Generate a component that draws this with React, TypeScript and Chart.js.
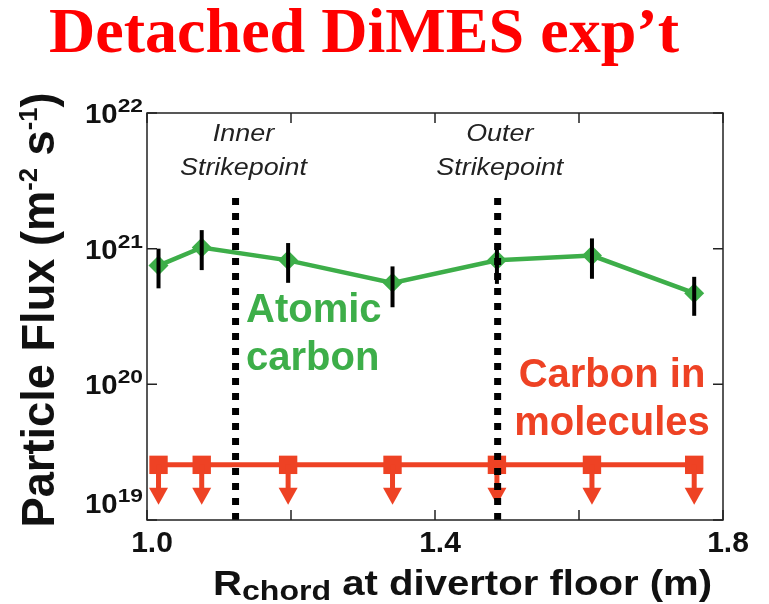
import { useEffect, useRef } from 'react';
import { Chart, registerables } from 'chart.js';

Chart.register(...registerables);

// Chord major radius at the divertor floor (m)
const chordR = [1.016, 1.076, 1.196, 1.341, 1.486, 1.618, 1.76];
// Atomic carbon flux (m^-2 s^-1) with error-bar bounds
const atomicFlux = [7.5e20, 1.02e21, 8.2e20, 5.6e20, 8.2e20, 8.9e20, 4.7e20];
const atomicHigh = [1.0e21, 1.37e21, 1.1e21, 7.4e20, 1.08e21, 1.19e21, 6.2e20];
const atomicLow = [5.1e20, 6.95e20, 5.6e20, 3.7e20, 5.5e20, 6.0e20, 3.2e20];
// Carbon in molecules: upper limits only
const molecularLimit = [2.55e19, 2.55e19, 2.55e19, 2.55e19, 2.55e19, 2.55e19, 2.55e19];

// Strikepoint locations and their labels
const strikeR = [1.123, 1.487];
const strikeTop = 2.7e21;
const strikeLabelR = [1.134, 1.49];
const strikeLabels = [
  ['Inner', 'Strikepoint'],
  ['Outer', 'Strikepoint'],
];

// Axis ticks
const xTicks = [1.0, 1.2, 1.4, 1.6, 1.8];
const xTickLabels = ['1.0', '', '1.4', '', '1.8'];
const yTicks = [1e19, 1e20, 1e21, 1e22];
const yTickExps = ['19', '20', '21', '22'];

const GREEN = '#3dae49';
const RED = '#ee4224';
const INK = '#111111';
const SANS = '"Liberation Sans", Arial, Helvetica, sans-serif';
const SERIF = '"Liberation Serif", "Times New Roman", Times, serif';

type Run = { text: string; size: number; dy?: number };
type RunOpts = {
  family: string;
  weight?: string;
  style?: string;
  color: string;
  x: number;
  y: number;
  align: 'left' | 'center' | 'right';
  width?: number;
  sx?: number;
};

// Draws a line of text made of runs (for sub/superscripts), optionally stretched to a width.
function drawRuns(ctx: CanvasRenderingContext2D, runs: Run[], o: RunOpts) {
  const font = (s: number) => `${o.style ?? 'normal'} ${o.weight ?? 'normal'} ${s}px ${o.family}`;
  let natural = 0;
  const widths = runs.map((r) => {
    ctx.font = font(r.size);
    const w = ctx.measureText(r.text).width;
    natural += w;
    return w;
  });
  const k = o.width ? o.width / natural : o.sx ?? 1;
  const total = natural * k;
  const start = o.align === 'left' ? 0 : o.align === 'right' ? -total : -total / 2;
  ctx.save();
  ctx.translate(o.x + start, o.y);
  ctx.scale(k, 1);
  ctx.fillStyle = o.color;
  ctx.textAlign = 'left';
  ctx.textBaseline = 'alphabetic';
  let cx = 0;
  runs.forEach((r, i) => {
    ctx.font = font(r.size);
    ctx.fillText(r.text, cx, r.dy ?? 0);
    cx += widths[i];
  });
  ctx.restore();
}

const overlay = {
  id: 'overlay',
  afterDatasetsDraw(chart: any) {
    const { ctx, chartArea: a } = chart;
    const xs = chart.scales.x;
    const ys = chart.scales.y;
    ctx.save();

    // error bars on atomic carbon
    ctx.strokeStyle = '#000';
    ctx.lineWidth = 4;
    chordR.forEach((r, i) => {
      const px = xs.getPixelForValue(r);
      ctx.beginPath();
      ctx.moveTo(px, ys.getPixelForValue(atomicHigh[i]));
      ctx.lineTo(px, ys.getPixelForValue(atomicLow[i]));
      ctx.stroke();
    });

    // downward arrows marking upper limits
    ctx.fillStyle = RED;
    chordR.forEach((r, i) => {
      const px = xs.getPixelForValue(r);
      const py = ys.getPixelForValue(molecularLimit[i]);
      ctx.fillRect(px - 2.5, py, 5, 25);
      ctx.beginPath();
      ctx.moveTo(px - 9.5, py + 23);
      ctx.lineTo(px + 9.5, py + 23);
      ctx.lineTo(px, py + 40);
      ctx.closePath();
      ctx.fill();
    });

    // strikepoint markers
    ctx.strokeStyle = '#000';
    ctx.lineWidth = 7;
    ctx.setLineDash([7, 8]);
    strikeR.forEach((r) => {
      const px = xs.getPixelForValue(r);
      ctx.beginPath();
      ctx.moveTo(px, a.bottom);
      ctx.lineTo(px, ys.getPixelForValue(strikeTop));
      ctx.stroke();
    });
    ctx.setLineDash([]);
    ctx.restore();
  },
  afterDraw(chart: any) {
    const { ctx, chartArea: a } = chart;
    const xs = chart.scales.x;
    const ys = chart.scales.y;
    ctx.save();

    // frame and inward ticks
    ctx.strokeStyle = '#222';
    ctx.lineWidth = 1.5;
    ctx.strokeRect(a.left, a.top, a.right - a.left, a.bottom - a.top);
    const tl = 10;
    ctx.beginPath();
    xTicks.forEach((v) => {
      const px = xs.getPixelForValue(v);
      ctx.moveTo(px, a.bottom);
      ctx.lineTo(px, a.bottom - tl);
      ctx.moveTo(px, a.top);
      ctx.lineTo(px, a.top + tl);
    });
    yTicks.forEach((v) => {
      const py = ys.getPixelForValue(v);
      ctx.moveTo(a.left, py);
      ctx.lineTo(a.left + tl, py);
      ctx.moveTo(a.right, py);
      ctx.lineTo(a.right - tl, py);
    });
    ctx.stroke();

    // x tick labels
    xTicks.forEach((v, i) => {
      if (!xTickLabels[i]) return;
      drawRuns(ctx, [{ text: xTickLabels[i], size: 30 }], {
        family: SANS, weight: 'bold', color: INK,
        x: xs.getPixelForValue(v) + 5, y: 552, align: 'center',
      });
    });

    // y tick labels: 10 with superscript exponent
    yTicks.forEach((v, i) => {
      const py = ys.getPixelForValue(v);
      const lift = i === 0 ? 17 : 0;
      ctx.font = `bold 19px ${SANS}`;
      const supW = ctx.measureText(yTickExps[i]).width * 1.2;
      drawRuns(ctx, [{ text: yTickExps[i], size: 19 }], {
        family: SANS, weight: 'bold', color: INK, x: 143, y: py - 1 - lift, align: 'right', sx: 1.2,
      });
      drawRuns(ctx, [{ text: '10', size: 28 }], {
        family: SANS, weight: 'bold', color: INK, x: 143 - supW, y: py + 10 - lift, align: 'right', sx: 1.05,
      });
    });

    // axis titles
    drawRuns(
      ctx,
      [
        { text: 'R', size: 35 },
        { text: 'chord', size: 28, dy: 5 },
        { text: ' at divertor floor (m)', size: 35 },
      ],
      { family: SANS, weight: 'bold', color: INK, x: 213, y: 595, align: 'left', width: 499 },
    );
    ctx.save();
    ctx.translate(54, 310);
    ctx.rotate(-Math.PI / 2);
    drawRuns(
      ctx,
      [
        { text: 'Particle Flux (m', size: 46 },
        { text: '-2', size: 26, dy: -17 },
        { text: ' s', size: 46 },
        { text: '-1', size: 26, dy: -17 },
        { text: ')', size: 46 },
      ],
      { family: SANS, weight: 'bold', color: INK, x: 0, y: 0, align: 'center', width: 435 },
    );
    ctx.restore();

    // chart title
    drawRuns(ctx, [{ text: 'Detached DiMES exp\u2019t', size: 64 }], {
      family: SERIF, weight: 'bold', color: '#ff0000', x: 364, y: 52, align: 'center', width: 630,
    });

    // strikepoint labels
    strikeLabelR.forEach((r, i) => {
      const px = xs.getPixelForValue(r);
      strikeLabels[i].forEach((t, j) => {
        drawRuns(ctx, [{ text: t, size: 24 }], {
          family: SANS, style: 'italic', color: '#222', x: px, y: 141 + j * 34, align: 'center', sx: 1.12,
        });
      });
    });

    // series labels
    ['Atomic', 'carbon'].forEach((t, j) => {
      drawRuns(ctx, [{ text: t, size: 40 }], {
        family: SANS, weight: 'bold', color: GREEN, x: 246, y: 322 + j * 48, align: 'left',
      });
    });
    ['Carbon in', 'molecules'].forEach((t, j) => {
      drawRuns(ctx, [{ text: t, size: 40 }], {
        family: SANS, weight: 'bold', color: RED, x: 612, y: 387 + j * 48, align: 'center',
      });
    });

    ctx.restore();
  },
};

export default function App() {
  const ref = useRef<HTMLCanvasElement>(null);

  useEffect(() => {
    const chart = new Chart(ref.current as HTMLCanvasElement, {
      type: 'line',
      data: {
        datasets: [
          {
            label: 'Atomic carbon',
            data: chordR.map((r, i) => ({ x: r, y: atomicFlux[i] })),
            borderColor: GREEN,
            backgroundColor: GREEN,
            borderWidth: 4.5,
            pointStyle: 'rectRot',
            pointRadius: 10,
            pointBorderWidth: 0,
            pointBackgroundColor: GREEN,
            tension: 0,
            clip: false,
          },
          {
            label: 'Carbon in molecules',
            data: chordR.map((r, i) => ({ x: r, y: molecularLimit[i] })),
            borderColor: RED,
            backgroundColor: RED,
            borderWidth: 5,
            pointStyle: 'rect',
            pointRadius: 13,
            pointBorderWidth: 0,
            pointBackgroundColor: RED,
            tension: 0,
            clip: false,
          },
        ],
      } as any,
      options: {
        animation: false,
        responsive: false,
        devicePixelRatio: 1,
        events: [],
        layout: { padding: { top: 113, right: 46, left: 0, bottom: 0 } },
        plugins: {
          legend: { display: false },
          tooltip: { enabled: false },
          title: { display: false },
        },
        scales: {
          x: {
            type: 'linear',
            min: 1.0,
            max: 1.8,
            ticks: { display: false },
            grid: { display: false },
            border: { display: false },
            afterFit: (s: any) => {
              s.height = 84;
            },
          },
          y: {
            type: 'logarithmic',
            min: 1e19,
            max: 1e22,
            ticks: { display: false },
            grid: { display: false },
            border: { display: false },
            afterFit: (s: any) => {
              s.width = 147;
            },
          },
        },
      } as any,
      plugins: [overlay],
    });
    return () => chart.destroy();
  }, []);

  return (
    <div style={{ position: 'absolute', left: 0, top: 0, width: 769, height: 604, background: '#ffffff' }}>
      <canvas ref={ref} width={769} height={604} style={{ display: 'block' }} />
    </div>
  );
}
